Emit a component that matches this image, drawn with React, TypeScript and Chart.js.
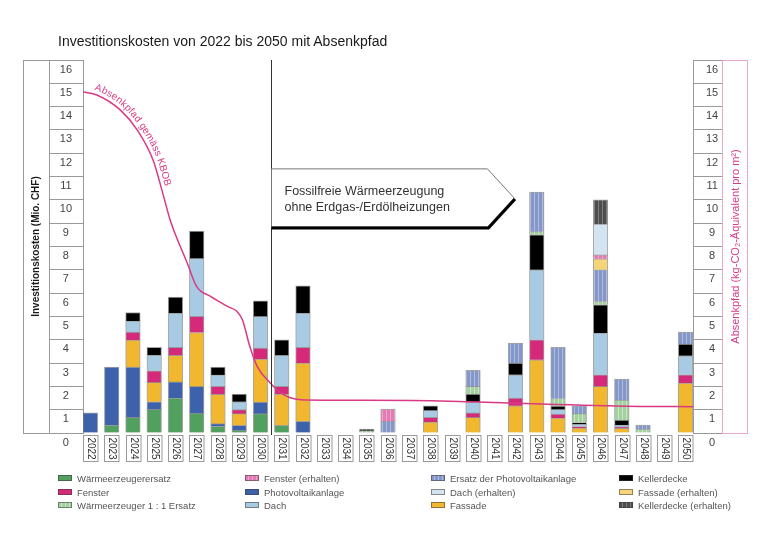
import React, { useEffect, useRef } from 'react';
import { Chart, registerables } from 'chart.js';

Chart.register(...registerables);

const FONT = "'Liberation Sans', Arial, sans-serif";
const PINK = '#d93a85';

// ---------- data ----------
const years = [2022, 2023, 2024, 2025, 2026, 2027, 2028, 2029, 2030, 2031, 2032, 2033, 2034, 2035, 2036, 2037, 2038, 2039, 2040, 2041, 2042, 2043, 2044, 2045, 2046, 2047, 2048, 2049, 2050];

const waermeerzeugerersatz = [0, 0.33, 0.67, 1.01, 1.5, 0.84, 0.29, 0.11, 0.83, 0.33, 0, 0, 0, 0, 0, 0, 0, 0, 0, 0, 0, 0, 0, 0, 0, 0, 0, 0, 0];
const photovoltaikanlage = [0.86, 2.5, 2.16, 0.33, 0.69, 1.16, 0.11, 0.22, 0.5, 0, 0.5, 0, 0, 0, 0, 0, 0, 0, 0, 0, 0, 0, 0, 0, 0, 0, 0, 0, 0];
const fassade = [0, 0, 1.16, 0.83, 1.14, 2.31, 1.26, 0.5, 1.84, 1.34, 2.5, 0, 0, 0, 0, 0, 0.47, 0, 0.67, 0, 1.17, 3.14, 0.64, 0.21, 2.0, 0.2, 0, 0, 2.14];
const fenster = [0, 0, 0.34, 0.5, 0.34, 0.69, 0.34, 0.17, 0.47, 0.33, 0.67, 0, 0, 0, 0, 0, 0.2, 0, 0.19, 0, 0.33, 0.86, 0.17, 0.07, 0.5, 0.07, 0, 0, 0.36];
const dach = [0, 0, 0.47, 0.67, 1.47, 2.49, 0.49, 0.34, 1.36, 1.33, 1.47, 0, 0, 0, 0, 0, 0.3, 0, 0.47, 0, 1.0, 3.0, 0.2, 0.1, 1.79, 0.07, 0, 0, 0.81];
const kellerdecke = [0, 0, 0.37, 0.33, 0.69, 1.17, 0.34, 0.33, 0.67, 0.67, 1.17, 0, 0, 0, 0, 0, 0.2, 0, 0.34, 0, 0.5, 1.5, 0.14, 0.07, 1.21, 0.21, 0, 0, 0.5];
const waermeerzeuger11 = [0, 0, 0, 0, 0, 0, 0, 0, 0, 0, 0, 0, 0, 0.1, 0, 0, 0, 0, 0.33, 0, 0, 0.14, 0.33, 0.38, 0.14, 0.86, 0.17, 0, 0];
const ersatzPV = [0, 0, 0, 0, 0, 0, 0, 0, 0, 0, 0, 0, 0, 0, 0.5, 0, 0, 0, 0.69, 0, 0.86, 1.69, 2.19, 0.34, 1.36, 0.9, 0.17, 0, 0.52];
const fassadeErhalten = [0, 0, 0, 0, 0, 0, 0, 0, 0, 0, 0, 0, 0, 0, 0, 0, 0, 0, 0, 0, 0, 0, 0, 0, 0.47, 0, 0, 0, 0];
const fensterErhalten = [0, 0, 0, 0, 0, 0, 0, 0, 0, 0, 0, 0, 0, 0, 0.53, 0, 0, 0, 0, 0, 0, 0, 0, 0, 0.17, 0, 0, 0, 0];
const dachErhalten = [0, 0, 0, 0, 0, 0, 0, 0, 0, 0, 0, 0, 0, 0, 0, 0, 0, 0, 0, 0, 0, 0, 0, 0, 1.32, 0, 0, 0, 0];
const kellerdeckeErhalten = [0, 0, 0, 0, 0, 0, 0, 0, 0, 0, 0, 0, 0, 0.07, 0, 0, 0, 0, 0, 0, 0, 0, 0, 0, 1.04, 0, 0, 0, 0];

const seriesNames = [
  'Wärmeerzeugerersatz', 'Photovoltaikanlage', 'Fassade', 'Fenster', 'Dach', 'Kellerdecke',
  'Wärmeerzeuger 1 : 1 Ersatz', 'Ersatz der Photovoltaikanlage', 'Fassade (erhalten)',
  'Fenster (erhalten)', 'Dach (erhalten)', 'Kellerdecke (erhalten)',
];
const seriesValues = [
  waermeerzeugerersatz, photovoltaikanlage, fassade, fenster, dach, kellerdecke,
  waermeerzeuger11, ersatzPV, fassadeErhalten, fensterErhalten, dachErhalten, kellerdeckeErhalten,
];

// Absenkpfad gemäss KBOB (x = year position, y = kg-CO2-eq per m²)
const absenkJahr = [2021.65, 2022.3, 2023.4, 2024.2, 2024.95, 2025.45, 2025.75, 2026.55, 2027.0, 2027.65, 2028.45, 2028.9, 2029.15, 2029.5, 2029.85, 2030.45, 2030.95, 2031.4, 2031.9, 2035.0, 2038.9, 2043.2, 2047.9, 2050.35];
const absenkWert = [14.63, 14.5, 13.86, 13.0, 11.7, 10.13, 9.14, 7.3, 6.28, 5.86, 5.43, 5.21, 4.86, 3.71, 2.85, 2.16, 1.73, 1.51, 1.43, 1.4, 1.36, 1.24, 1.14, 1.13];

const chartTitle = 'Investitionskosten von 2022 bis 2050 mit Absenkpfad';
const leftTitle = 'Investitionskosten (Mio. CHF)';
const rightTitle = 'Absenkpfad (kg-CO₂-Äquivalent pro m²)';
const lineLabel = 'Absenkpfad gemäss KBOB';
const boxText = ['Fossilfreie Wärmeerzeugung', 'ohne Erdgas-/Erdölheizungen'];

// ---------- styles ----------
const seriesStyles = [
  { color: '#52a05f' },
  { color: '#3d62ab' },
  { color: '#f0b72f' },
  { color: '#d42a79' },
  { color: '#a8cae3' },
  { color: '#000000' },
  { color: '#a3d1a0', stripe: '#c8e5c5' },
  { color: '#8497c8', stripe: '#aebcdf' },
  { color: '#f5d47a' },
  { color: '#e27ab4', stripe: '#f0a6cc' },
  { color: '#d3e4f0' },
  { color: '#4d4d4d', stripe: '#7d7d7d' },
];
const legendColumns = [[0, 3, 6], [9, 1, 4], [7, 10, 2], [5, 8, 11]];
const legendColX = [58, 245, 431, 619];
const legendRowY = [478, 492, 505];

function makeStripe(base: string, line: string) {
  const c = document.createElement('canvas');
  c.width = 4; c.height = 4;
  const g = c.getContext('2d')!;
  g.fillStyle = base; g.fillRect(0, 0, 4, 4);
  g.fillStyle = line; g.fillRect(2, 0, 1, 4);
  return g.createPattern(c, 'repeat')!;
}

const decorPlugin = {
  id: 'decor',
  afterDatasetsDraw(chart: any) {
    // curved label along the Absenkpfad line
    const ctx = chart.ctx;
    const meta = chart.getDatasetMeta(0);
    const pts = meta.data as any[];
    const dense: { x: number; y: number }[] = [];
    for (let i = 0; i < pts.length - 1; i++) {
      const p0 = pts[i], p1 = pts[i + 1];
      const c1x = p0.cp2x ?? p0.x, c1y = p0.cp2y ?? p0.y;
      const c2x = p1.cp1x ?? p1.x, c2y = p1.cp1y ?? p1.y;
      for (let k = 0; k < 20; k++) {
        const t = k / 20, u = 1 - t;
        dense.push({
          x: u * u * u * p0.x + 3 * u * u * t * c1x + 3 * u * t * t * c2x + t * t * t * p1.x,
          y: u * u * u * p0.y + 3 * u * u * t * c1y + 3 * u * t * t * c2y + t * t * t * p1.y,
        });
      }
    }
    const cum = [0];
    for (let i = 1; i < dense.length; i++) {
      cum.push(cum[i - 1] + Math.hypot(dense[i].x - dense[i - 1].x, dense[i].y - dense[i - 1].y));
    }
    const at = (d: number) => {
      let i = 1;
      while (i < cum.length - 1 && cum[i] < d) i++;
      const a = dense[i - 1], b = dense[i];
      const seg = cum[i] - cum[i - 1] || 1;
      const t = (d - cum[i - 1]) / seg;
      return { x: a.x + (b.x - a.x) * t, y: a.y + (b.y - a.y) * t, ang: Math.atan2(b.y - a.y, b.x - a.x) };
    };
    ctx.save();
    ctx.font = `10px ${FONT}`;
    ctx.fillStyle = PINK;
    ctx.textAlign = 'center';
    ctx.textBaseline = 'alphabetic';
    let d = 10;
    for (const ch of lineLabel) {
      const w = ctx.measureText(ch).width;
      const p = at(d + w / 2);
      const off = 4;
      ctx.save();
      ctx.translate(p.x + Math.sin(p.ang) * off, p.y - Math.cos(p.ang) * off);
      ctx.rotate(p.ang);
      ctx.fillText(ch, 0, 0);
      ctx.restore();
      d += w;
    }
    ctx.restore();
  },
  afterDraw(chart: any) {
    const ctx = chart.ctx;
    const { top, bottom } = chart.chartArea;
    const x = chart.scales.x;
    const y = chart.scales.y;
    ctx.save();
    // left frame (title box)
    ctx.strokeStyle = '#9a9a9a';
    ctx.lineWidth = 1;
    ctx.beginPath();
    ctx.moveTo(23.5, top + 0.5); ctx.lineTo(23.5, bottom + 0.5);
    ctx.moveTo(49.5, top + 0.5); ctx.lineTo(49.5, bottom + 0.5);
    ctx.moveTo(23, top + 0.5); ctx.lineTo(50, top + 0.5);
    ctx.moveTo(23, bottom + 0.5); ctx.lineTo(50, bottom + 0.5);
    ctx.stroke();
    // right pink frame
    ctx.strokeStyle = '#e8a9c8';
    ctx.strokeRect(722.5, top + 0.5, 25, bottom - top);
    // right title
    ctx.save();
    ctx.translate(736, (top + bottom) / 2);
    ctx.rotate(-Math.PI / 2);
    ctx.font = `11px ${FONT}`;
    ctx.fillStyle = PINK;
    ctx.textAlign = 'center';
    ctx.textBaseline = 'middle';
    ctx.fillText(rightTitle, 0, 0);
    ctx.restore();

    // x label boxes
    ctx.font = `10px ${FONT}`;
    ctx.textAlign = 'center';
    ctx.textBaseline = 'middle';
    for (const yr of years) {
      const cx = x.getPixelForValue(yr);
      ctx.strokeStyle = '#9a9a9a';
      ctx.strokeRect(Math.round(cx - 7.25) + 0.5, bottom + 2.5, 14.5, 26);
      ctx.save();
      ctx.translate(cx + 0.5, bottom + 15.5);
      ctx.rotate(Math.PI / 2);
      ctx.fillStyle = '#333';
      ctx.fillText(String(yr), 0, 0);
      ctx.restore();
    }

    // vertical divider 2030/2031
    const vx = Math.round(x.getPixelForValue(2030.5)) + 0.5;
    ctx.strokeStyle = '#333';
    ctx.beginPath();
    ctx.moveTo(vx, top); ctx.lineTo(vx, bottom + 2);
    ctx.stroke();

    // arrow box
    const bx0 = vx;
    const bx1 = x.getPixelForValue(2040.68);
    const bx2 = x.getPixelForValue(2041.93);
    const by0 = y.getPixelForValue(11.33);
    const by1 = y.getPixelForValue(8.84);
    const bym = (by0 + by1) / 2;
    ctx.beginPath();
    ctx.moveTo(bx0, by0); ctx.lineTo(bx1, by0); ctx.lineTo(bx2, bym); ctx.lineTo(bx1, by1); ctx.lineTo(bx0, by1);
    ctx.closePath();
    ctx.fillStyle = '#fff';
    ctx.fill();
    ctx.strokeStyle = '#777';
    ctx.lineWidth = 1;
    ctx.stroke();
    ctx.beginPath();
    ctx.moveTo(bx0, by1 + 1); ctx.lineTo(bx1 + 1, by1 + 1); ctx.lineTo(bx2 + 1, bym + 1);
    ctx.strokeStyle = '#000';
    ctx.lineWidth = 3;
    ctx.stroke();
    ctx.font = `12.5px ${FONT}`;
    ctx.fillStyle = '#333';
    ctx.textAlign = 'left';
    ctx.textBaseline = 'middle';
    ctx.fillText(boxText[0], bx0 + 13, bym - 6);
    ctx.fillText(boxText[1], bx0 + 13, bym + 10);
    ctx.restore();
  },
};

function swatchBg(i: number) {
  const s = seriesStyles[i];
  if (s.stripe) {
    return `repeating-linear-gradient(90deg, ${s.color} 0px, ${s.color} 2px, ${s.stripe} 2px, ${s.stripe} 3px, ${s.color} 3px, ${s.color} 4px)`;
  }
  return s.color;
}

export default function App() {
  const ref = useRef<HTMLCanvasElement>(null);
  useEffect(() => {
    if (!ref.current) return;
    const fills = seriesStyles.map((s) => (s.stripe ? makeStripe(s.color, s.stripe) : s.color));
    const chart = new Chart(ref.current, {
      type: 'bar',
      data: {
        labels: years,
        datasets: [
          {
            type: 'line',
            label: lineLabel,
            data: absenkJahr.map((xv, i) => ({ x: xv, y: absenkWert[i] })),
            yAxisID: 'y2',
            xAxisID: 'x',
            borderColor: PINK,
            borderWidth: 1.5,
            pointRadius: 0,
            cubicInterpolationMode: 'monotone',
            fill: false,
            order: 0,
          } as any,
          ...seriesValues.map((vals, i) => ({
            type: 'bar',
            label: seriesNames[i],
            data: vals.map((v) => (v === 0 ? null : v)),
            backgroundColor: fills[i],
            borderColor: 'rgba(90,90,90,0.55)',
            borderWidth: 1,
            barThickness: 14.6,
            yAxisID: 'y',
            xAxisID: 'x',
            order: 1,
          } as any)),
        ],
      },
      options: {
        animation: false,
        responsive: false,
        maintainAspectRatio: false,
        layout: { padding: { top: 60, left: 23, right: 48, bottom: 111 } },
        plugins: {
          legend: { display: false },
          tooltip: { enabled: false },
          title: { display: false },
        },
        scales: {
          x: {
            type: 'linear',
            offset: false,
            min: 2021.65,
            max: 2050.35,
            stacked: true,
            grid: { display: false, offset: false },
            border: { display: false },
            ticks: { display: false },
            afterFit: (s: any) => { s.height = 0; },
          },
          y: {
            type: 'linear',
            position: 'left',
            stacked: true,
            min: 0,
            max: 16,
            ticks: {
              stepSize: 1,
              crossAlign: 'center',
              padding: -23,
              labelOffset: 9.5,
              color: '#444',
              font: { family: FONT, size: 11 },
            },
            grid: { drawOnChartArea: false, tickLength: 34, color: '#9a9a9a', lineWidth: 1 },
            border: { display: true, color: '#9a9a9a' },
            title: {
              display: true,
              text: leftTitle,
              color: '#1a1a1a',
              font: { family: FONT, size: 10, weight: 'bold' },
              padding: { top: 7, bottom: 0 },
            },
            afterFit: (s: any) => { s.width = 60; },
          },
          y2: {
            type: 'linear',
            position: 'right',
            min: 0,
            max: 16,
            ticks: {
              stepSize: 1,
              crossAlign: 'center',
              padding: -16,
              labelOffset: 9.5,
              color: '#444',
              font: { family: FONT, size: 11 },
            },
            grid: { drawOnChartArea: false, tickLength: 29, color: '#9a9a9a', lineWidth: 1 },
            border: { display: true, color: '#9a9a9a' },
            afterFit: (s: any) => { s.width = 29; },
          },
        },
      } as any,
      plugins: [decorPlugin],
    });
    return () => chart.destroy();
  }, []);

  return (
    <div style={{ position: 'fixed', left: 0, top: 0, width: 770, height: 544, background: '#fff', fontFamily: FONT }}>
      <canvas ref={ref} width={770} height={544} style={{ position: 'absolute', left: 0, top: 0 }} />
      <div style={{ position: 'absolute', left: 58, top: 33, fontSize: 14, lineHeight: '17px', color: '#1a1a1a', whiteSpace: 'nowrap' }}>
        {chartTitle}
      </div>
      {legendColumns.map((col, ci) =>
        col.map((si, ri) => (
          <div
            key={`${ci}-${ri}`}
            style={{
              position: 'absolute',
              left: legendColX[ci],
              top: legendRowY[ri] - 7,
              height: 14,
              display: 'flex',
              alignItems: 'center',
              whiteSpace: 'nowrap',
              fontSize: 9.5,
              color: '#555',
            }}
          >
            <span
              style={{
                display: 'inline-block',
                width: 14,
                height: 6,
                boxSizing: 'border-box',
                border: '1px solid rgba(60,60,60,0.55)',
                background: swatchBg(si),
                marginRight: 5,
              }}
            />
            <span>{seriesNames[si]}</span>
          </div>
        ))
      )}
    </div>
  );
}
